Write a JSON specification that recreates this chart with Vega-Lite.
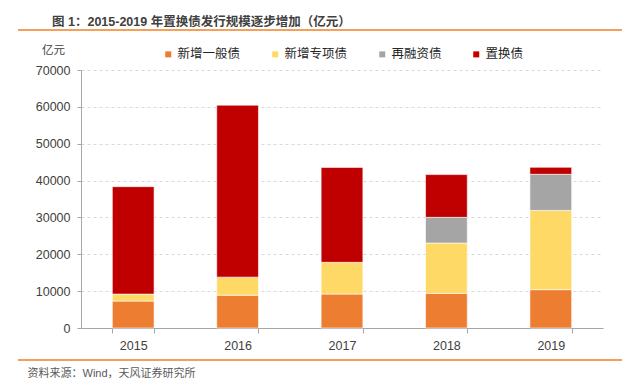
{
  "$schema": "https://vega.github.io/schema/vega-lite/v6.json",
  "width": 522,
  "height": 258,
  "autosize": "none",
  "padding": {"left": 81, "top": 70, "right": 19, "bottom": 58},
  "background": "white",
  "config": {
    "view": {"stroke": null},
    "font": "Liberation Sans, Noto Sans CJK SC"
  },
  "title": {
    "text": "图 1：2015-2019 年置换债发行规模逐步增加（亿元）",
    "anchor": "start",
    "frame": "group",
    "font": "Liberation Sans, Noto Sans CJK SC",
    "fontSize": 12.5,
    "fontWeight": "bold",
    "color": "#404040",
    "dx": -29,
    "offset": 1
  },
  "data": {
    "values": [
      {"year": "2015", "type": "新增一般债", "ord": 1, "value": 7300},
      {"year": "2015", "type": "新增专项债", "ord": 2, "value": 1900},
      {"year": "2015", "type": "置换债", "ord": 4, "value": 29150},
      {"year": "2016", "type": "新增一般债", "ord": 1, "value": 8900},
      {"year": "2016", "type": "新增专项债", "ord": 2, "value": 4900},
      {"year": "2016", "type": "置换债", "ord": 4, "value": 46660},
      {"year": "2017", "type": "新增一般债", "ord": 1, "value": 9220},
      {"year": "2017", "type": "新增专项债", "ord": 2, "value": 8600},
      {"year": "2017", "type": "置换债", "ord": 4, "value": 25760},
      {"year": "2018", "type": "新增一般债", "ord": 1, "value": 9400},
      {"year": "2018", "type": "新增专项债", "ord": 2, "value": 13650},
      {"year": "2018", "type": "再融资债", "ord": 3, "value": 6970},
      {"year": "2018", "type": "置换债", "ord": 4, "value": 11600},
      {"year": "2019", "type": "新增一般债", "ord": 1, "value": 10400},
      {"year": "2019", "type": "新增专项债", "ord": 2, "value": 21500},
      {"year": "2019", "type": "再融资债", "ord": 3, "value": 9800},
      {"year": "2019", "type": "置换债", "ord": 4, "value": 1900}
    ]
  },
  "layer": [
    {
      "mark": {"type": "bar", "stroke": "white", "strokeWidth": 0.6},
      "encoding": {
        "x": {
          "field": "year",
          "type": "ordinal",
          "scale": {"paddingInner": 0.6, "paddingOuter": 0.3},
          "axis": {
            "labelAngle": 0,
            "labelFontSize": 12.5,
            "labelColor": "#404040",
            "labelPadding": 6,
            "tickBand": "extent",
            "tickSize": 5,
            "tickColor": "#A6A6A6",
            "domainColor": "#A6A6A6",
            "title": "资料来源：Wind，天风证券研究所",
            "titleFontSize": 11,
            "titleFontWeight": "normal",
            "titleColor": "#595959",
            "titleAnchor": "start",
            "titleAlign": "left",
            "titleBaseline": "middle",
            "titleX": -54,
            "titleY": 45
          }
        },
        "y": {
          "field": "value",
          "type": "quantitative",
          "stack": "zero",
          "scale": {"domain": [0, 70000]},
          "axis": {
            "values": [0, 10000, 20000, 30000, 40000, 50000, 60000, 70000],
            "format": "d",
            "labelFontSize": 12.5,
            "labelColor": "#404040",
            "labelPadding": 7,
            "tickSize": 4,
            "tickColor": "#A6A6A6",
            "domainColor": "#A6A6A6",
            "gridColor": "#D9D9D9",
            "gridDash": [3, 3],
            "title": "亿元",
            "titleFontSize": 11.5,
            "titleFontWeight": "normal",
            "titleColor": "#404040",
            "titleAngle": 0,
            "titleAlign": "center",
            "titleBaseline": "middle",
            "titleX": -28,
            "titleY": -20
          }
        },
        "color": {
          "field": "type",
          "type": "nominal",
          "scale": {
            "domain": ["新增一般债", "新增专项债", "再融资债", "置换债"],
            "range": ["#ED7D31", "#FFD966", "#A5A5A5", "#C00000"]
          },
          "legend": {
            "title": null,
            "orient": "none",
            "direction": "horizontal",
            "legendX": 81,
            "legendY": -22,
            "symbolType": "square",
            "symbolSize": 36,
            "symbolStrokeWidth": 0,
            "labelFontSize": 12.5,
            "labelColor": "#262626",
            "labelOffset": 3,
            "columnPadding": 28
          }
        },
        "order": {"field": "ord", "type": "quantitative"}
      }
    },
    {
      "mark": {"type": "rule", "color": "#F4A15A", "strokeWidth": 1.5},
      "encoding": {
        "x": {"value": -63},
        "x2": {"value": 541},
        "y": {"value": -40}
      }
    },
    {
      "mark": {"type": "rule", "color": "#F4A15A", "strokeWidth": 1.5},
      "encoding": {
        "x": {"value": -63},
        "x2": {"value": 541},
        "y": {"value": 290}
      }
    }
  ]
}
